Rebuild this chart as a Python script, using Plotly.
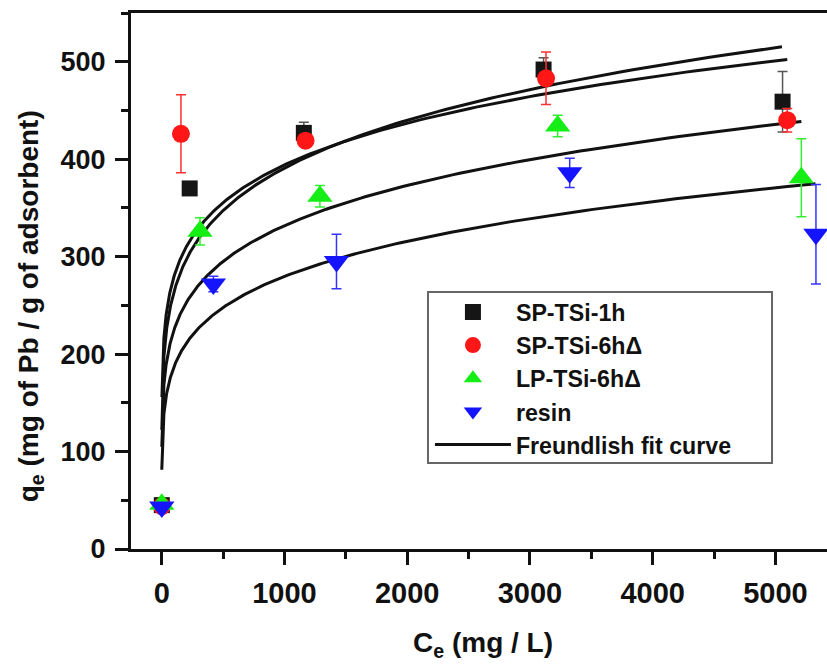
import numpy as np
import plotly.graph_objects as go

# Equilibrium concentration Ce (mg/L), uptake qe (mg Pb / g adsorbent) and std. deviation
ce_sp1h = [1, 228, 1158, 3111, 5058]
qe_sp1h = [45, 370, 427, 492, 459]
err_sp1h = [0, 0, 11, 12, 31]

ce_sp6h = [1, 157, 1172, 3131, 5096]
qe_sp6h = [44, 426, 419, 483, 440]
err_sp6h = [0, 40, 6, 27, 12]

ce_lp6h = [1, 312, 1289, 3226, 5211]
qe_lp6h = [46, 326, 362, 434, 381]
err_lp6h = [0, 14, 11, 11, 40]

ce_resin = [1, 421, 1424, 3324, 5330]
qe_resin = [43, 272, 295, 386, 323]
err_resin = [0, 8, 28, 15, 51]

# Freundlich parameters (qe = K * Ce^(1/n)) and fitted Ce span of each curve
fit_K = [120.3, 140.7, 103.1, 83.5]
fit_inv_n = [0.1706, 0.1491, 0.1692, 0.175]
fit_ce_start = [1.1, 2.0, 1.1, 0.86]
fit_ce_end = [5053, 5096, 5211, 5326]

series_names = ["SP-TSi-1h", "SP-TSi-6h\u0394", "LP-TSi-6h\u0394", "resin"]
fit_name = "Freundlish fit curve"

x_ticks = [0, 1000, 2000, 3000, 4000, 5000]
y_ticks = [0, 100, 200, 300, 400, 500]

FONT = "Liberation Sans, Arial, sans-serif"

fig = go.Figure()

# fit curves (drawn beneath the markers)
for i, (k, inv_n, c0, c1) in enumerate(zip(fit_K, fit_inv_n, fit_ce_start, fit_ce_end)):
    ce = np.geomspace(c0, c1, 400)
    fig.add_trace(go.Scatter(
        x=ce, y=k * ce ** inv_n, mode="lines",
        line=dict(color="#111111", width=3),
        name=fit_name, showlegend=(i == 0), legendrank=1000,
        hoverinfo="skip",
    ))

styles = [
    dict(symbol="square", size=16, color="#151515", ecolor="#555555"),
    dict(symbol="circle", size=18, color="#ff1717", ecolor="#ff3030"),
    dict(symbol="triangle-up", size=22, color="#14ee14", ecolor="#33ee33"),
    dict(symbol="triangle-down", size=22, color="#1414ff", ecolor="#3333ff"),
]
data = [
    (ce_sp1h, qe_sp1h, err_sp1h),
    (ce_sp6h, qe_sp6h, err_sp6h),
    (ce_lp6h, qe_lp6h, err_lp6h),
    (ce_resin, qe_resin, err_resin),
]
for i, ((x, y, e), st, nm) in enumerate(zip(data, styles, series_names)):
    fig.add_trace(go.Scatter(
        x=x, y=y, mode="markers", name=nm, legendrank=i + 1,
        marker=dict(symbol=st["symbol"], size=st["size"], color=st["color"],
                    line=dict(width=0)),
        error_y=dict(type="data", array=e, visible=True, color=st["ecolor"],
                     thickness=1.5, width=5),
    ))

x_font = dict(family=FONT, size=29, color="#111111", weight="bold")
y_font = dict(family=FONT, size=27, color="#111111", weight="bold")

fig.update_layout(
    width=827, height=666,
    margin=dict(l=131, r=0, t=13, b=117),
    paper_bgcolor="white", plot_bgcolor="white",
    showlegend=True,
    legend=dict(
        x=0.4295, y=0.4825, xanchor="left", yanchor="top",
        bgcolor="rgba(0,0,0,0)", borderwidth=0,
        font=dict(family=FONT, size=23.2, color="#111111", weight="bold"),
        itemwidth=76, tracegroupgap=0, traceorder="normal",
    ),
    # framed white panel behind the legend entries
    shapes=[
        dict(type="rect", xref="paper", yref="paper", layer="above",
             x0=0.4267, x1=0.921, y0=0.1604, y1=0.4795,
             fillcolor="white", line=dict(color="#666666", width=2)),
    ],
    xaxis=dict(
        range=[-250, 5420], showgrid=False, zeroline=False,
        showline=True, linecolor="#111111", linewidth=3, mirror=True,
        tickmode="array", tickvals=x_ticks, ticktext=[str(v) for v in x_ticks],
        ticks="outside", ticklen=13, tickwidth=2.5, tickcolor="#111111",
        tickfont=x_font, ticklabelstandoff=3,
        minor=dict(dtick=500, tick0=0, ticks="outside", ticklen=7,
                   tickwidth=2.5, tickcolor="#111111"),
    ),
    yaxis=dict(
        range=[0, 550], showgrid=False, zeroline=False,
        showline=True, linecolor="#111111", linewidth=3,
        tickmode="array", tickvals=y_ticks, ticktext=[str(v) for v in y_ticks],
        ticks="outside", ticklen=13, tickwidth=2.5, tickcolor="#111111",
        tickfont=y_font, ticklabelstandoff=4,
        minor=dict(dtick=50, tick0=0, ticks="outside", ticklen=7,
                   tickwidth=2.5, tickcolor="#111111"),
    ),
    annotations=[
        dict(text="C<sub>e</sub> (mg / L)", xref="paper", yref="paper",
             x=0.506, y=-0.178, xanchor="center", yanchor="middle",
             showarrow=False, font=dict(family=FONT, size=28, color="#111111", weight="bold")),
        dict(text="q<sub>e</sub> (mg of Pb / g of adsorbent)", xref="paper", yref="paper",
             x=-0.145, y=0.453, xanchor="center", yanchor="middle", textangle=-90,
             showarrow=False, font=dict(family=FONT, size=28, color="#111111", weight="bold")),
    ],
)

fig.write_html("out.html")
